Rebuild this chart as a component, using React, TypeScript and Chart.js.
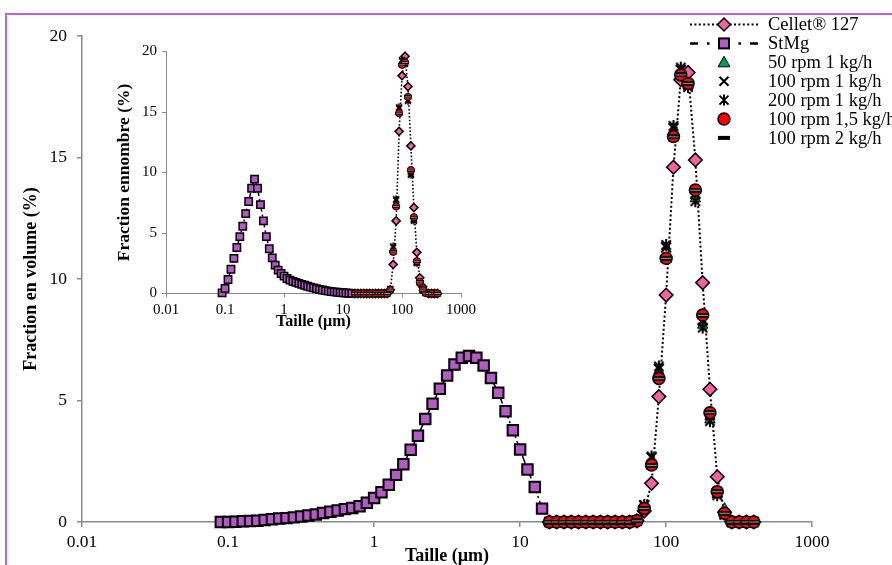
import React, { useEffect, useRef } from 'react';
import { Chart, registerables } from 'chart.js';

Chart.register(...registerables);

const FONT = "'Liberation Serif', 'Times New Roman', Times, serif";
const AXIS_GRAY = '#898989';
const PINK = '#F2629E';
const PURPLE = '#B35AC4';
const GREEN = '#00A04E';
const RED = '#FF0000';
const FRAME = '#C165CF';

// Size classes (µm)
const stmgSizes = [
  0.0893, 0.1002, 0.1125, 0.1262, 0.1416, 0.1589, 0.1783, 0.2, 0.2244, 0.2518,
  0.2825, 0.317, 0.3557, 0.3991, 0.4477, 0.5024, 0.5637, 0.6325, 0.7096, 0.7962,
  0.8934, 1.002, 1.125, 1.262, 1.416, 1.589, 1.783, 2.0, 2.244, 2.518,
  2.825, 3.17, 3.557, 3.991, 4.477, 5.024, 5.637, 6.325, 7.096, 7.962,
  8.934, 10.02, 11.25, 12.62, 14.16,
];
const coarseSizes = [
  15.89, 17.83, 20.0, 22.44, 25.18, 28.25, 31.7, 35.57, 39.91, 44.77,
  50.24, 56.37, 63.25, 70.96, 79.62, 89.34, 100.2, 112.5, 126.2, 141.6,
  158.9, 178.3, 200.0, 224.4, 251.8, 282.5, 317.0, 355.7, 399.1,
];
const xTickValues = [0.01, 0.1, 1, 10, 100, 1000];
const yMax = 20;
const yStep = 5;

const seriesLabels = [
  'Cellet® 127',
  'StMg',
  '50 rpm 1 kg/h',
  '100 rpm 1 kg/h',
  '200 rpm 1 kg/h',
  '100 rpm 1,5 kg/h',
  '100 rpm 2 kg/h',
];

// ---- Volume distribution (main chart) ----
const stmgVol = [
  0.0, 0.0, 0.01, 0.03, 0.04, 0.05, 0.08, 0.11, 0.14, 0.16,
  0.19, 0.23, 0.27, 0.31, 0.37, 0.42, 0.47, 0.53, 0.58, 0.65,
  0.79, 0.99, 1.22, 1.53, 1.94, 2.38, 2.97, 3.55, 4.24, 4.87,
  5.48, 6.03, 6.48, 6.76, 6.83, 6.76, 6.44, 5.93, 5.32, 4.56,
  3.78, 2.98, 2.16, 1.44, 0.55,
];
const celletVol = [
  0, 0, 0, 0, 0, 0, 0, 0, 0, 0, 0, 0,
  0.05, 0.45, 1.59, 5.16, 9.34, 14.6, 18.2, 18.5, 14.9, 9.85, 5.46, 1.86, 0.4, 0, 0, 0, 0,
];
const rpm50Vol = [
  0, 0, 0, 0, 0, 0, 0, 0, 0, 0, 0, 0,
  0.05, 0.55, 2.3, 5.9, 10.8, 15.8, 18.4, 18.0, 13.3, 8.1, 4.2, 1.15, 0.55, 0, 0, 0, 0,
];
const rpm100Vol = [
  0, 0, 0, 0, 0, 0, 0, 0, 0, 0, 0, 0,
  0.06, 0.68, 2.65, 6.3, 11.3, 16.2, 18.6, 18.0, 13.5, 8.3, 4.4, 1.2, 0.33, 0, 0, 0, 0,
];
const rpm200Vol = [
  0, 0, 0, 0, 0, 0, 0, 0, 0, 0, 0, 0,
  0.06, 0.7, 2.7, 6.4, 11.4, 16.3, 18.7, 17.9, 13.2, 8.0, 4.15, 1.1, 0.3, 0, 0, 0, 0,
];
const rpm100r15Vol = [
  0, 0, 0, 0, 0, 0, 0, 0, 0, 0, 0, 0,
  0.05, 0.56, 2.35, 5.91, 10.85, 15.86, 18.4, 18.05, 13.66, 8.52, 4.5, 1.25, 0.36, 0, 0, 0, 0,
];
const rpm100r2Vol = [
  0, 0, 0, 0, 0, 0, 0, 0, 0, 0, 0, 0,
  0.05, 0.56, 2.33, 5.9, 10.85, 15.85, 18.4, 18.05, 13.65, 8.5, 4.5, 1.25, 0.36, 0, 0, 0, 0,
];

// ---- Number distribution (inset) ----
const stmgNum = [
  0.05, 0.41, 1.16, 2.0, 2.9, 3.8, 4.7, 5.56, 6.6, 7.6,
  8.7, 9.45, 8.7, 7.35, 6.0, 4.7, 3.7, 2.95, 2.35, 1.93,
  1.65, 1.43, 1.24, 1.1, 1.0, 0.92, 0.84, 0.76, 0.68, 0.6,
  0.53, 0.46, 0.4, 0.34, 0.29, 0.24, 0.2, 0.16, 0.13, 0.1,
  0.08, 0.06, 0.04, 0.02, 0.01,
];
const celletNum = [
  0, 0, 0, 0, 0, 0, 0, 0, 0, 0, 0, 0,
  0.3, 2.4, 6.0, 13.4, 18.0, 19.6, 17.1, 12.2, 7.1, 3.4, 1.3, 0.55, 0.1, 0, 0, 0, 0,
];
const rpm50Num = [
  0, 0, 0, 0, 0, 0, 0, 0, 0, 0, 0, 0,
  0.28, 3.4, 7.2, 14.9, 18.9, 19.1, 16.2, 10.0, 6.1, 2.5, 0.9, 0.35, 0.05, 0, 0, 0, 0,
];
const rpm100Num = [
  0, 0, 0, 0, 0, 0, 0, 0, 0, 0, 0, 0,
  0.35, 3.8, 7.7, 15.3, 19.2, 19.0, 16.0, 9.9, 6.1, 2.6, 0.9, 0.25, 0.05, 0, 0, 0, 0,
];
const rpm200Num = [
  0, 0, 0, 0, 0, 0, 0, 0, 0, 0, 0, 0,
  0.35, 3.9, 7.8, 15.4, 19.3, 19.0, 15.9, 9.8, 6.0, 2.5, 0.9, 0.3, 0.05, 0, 0, 0, 0,
];
const rpm100r15Num = [
  0, 0, 0, 0, 0, 0, 0, 0, 0, 0, 0, 0,
  0.28, 3.44, 7.2, 14.9, 18.9, 19.1, 16.25, 10.2, 6.3, 2.67, 0.96, 0.28, 0.05, 0, 0, 0, 0,
];
const rpm100r2Num = [
  0, 0, 0, 0, 0, 0, 0, 0, 0, 0, 0, 0,
  0.28, 3.44, 7.2, 14.9, 18.9, 19.1, 16.25, 10.2, 6.3, 2.67, 0.96, 0.28, 0.05, 0, 0, 0, 0,
];

function pts(xs: number[], ys: number[]) {
  return xs.map((x, i) => ({ x, y: ys[i] }));
}

function makeStar(r: number, lw: number) {
  const s = Math.ceil(2 * r + lw + 2);
  const c = document.createElement('canvas');
  c.width = s;
  c.height = s;
  const g = c.getContext('2d')!;
  const m = s / 2;
  g.strokeStyle = '#000';
  g.lineWidth = lw;
  g.beginPath();
  g.moveTo(m, m - r);
  g.lineTo(m, m + r);
  const d = r * 0.78;
  g.moveTo(m - d, m - d);
  g.lineTo(m + d, m + d);
  g.moveTo(m + d, m - d);
  g.lineTo(m - d, m + d);
  g.stroke();
  return c;
}

function makeDash(w: number, h: number) {
  const c = document.createElement('canvas');
  c.width = w;
  c.height = h;
  const g = c.getContext('2d')!;
  g.fillStyle = '#111';
  g.fillRect(0, 0, w, h);
  g.fillStyle = '#9d8c8c';
  g.fillRect(1, Math.floor(h / 2), w - 2, 1);
  return c;
}

type SeriesSet = {
  cellet: number[];
  stmg: number[];
  r50: number[];
  r100: number[];
  r200: number[];
  r15: number[];
  r2: number[];
};

function buildDatasets(d: SeriesSet, inset: boolean) {
  const k = inset ? 0.6 : 1;
  const star = makeStar(inset ? 3.8 : 6, inset ? 1.5 : 2);
  const dash = inset ? makeDash(8, 3) : makeDash(12, 5);
  const common = { showLine: false, clip: false as const, pointBorderColor: '#000' };
  return [
    {
      label: seriesLabels[0],
      data: pts(coarseSizes, d.cellet),
      showLine: true,
      clip: false as const,
      borderColor: '#000',
      borderWidth: inset ? 1.6 : 2,
      borderDash: inset ? [1.6, 2] : [2, 2.4],
      pointStyle: 'rectRot',
      pointRadius: 6.8 * k,
      pointBorderWidth: 1.5,
      pointBackgroundColor: PINK,
      pointBorderColor: '#000',
      order: 7,
    },
    {
      label: seriesLabels[1],
      data: pts(stmgSizes, d.stmg),
      showLine: true,
      clip: false as const,
      borderColor: '#000',
      borderWidth: 1.5,
      borderDash: [8, 3, 2, 3],
      pointStyle: 'rect',
      pointRadius: inset ? 5.2 : 7.4,
      pointBorderWidth: inset ? 1.5 : 2,
      pointBackgroundColor: PURPLE,
      pointBorderColor: '#000',
      order: 6,
    },
    {
      ...common,
      label: seriesLabels[2],
      data: pts(coarseSizes, d.r50),
      pointStyle: 'triangle',
      pointRadius: 6 * k,
      pointBorderWidth: 1,
      pointBackgroundColor: GREEN,
      order: 5,
    },
    {
      ...common,
      label: seriesLabels[3],
      data: pts(coarseSizes, d.r100),
      pointStyle: 'crossRot',
      pointRadius: 7 * k,
      pointBorderWidth: inset ? 1.5 : 2,
      order: 4,
    },
    {
      ...common,
      label: seriesLabels[4],
      data: pts(coarseSizes, d.r200),
      pointStyle: star,
      pointRadius: 6 * k,
      order: 3,
    },
    {
      ...common,
      label: seriesLabels[5],
      data: pts(coarseSizes, d.r15),
      pointStyle: 'circle',
      pointRadius: 6 * k,
      pointBorderWidth: inset ? 1 : 1.5,
      pointBackgroundColor: RED,
      order: 2,
    },
    {
      ...common,
      label: seriesLabels[6],
      data: pts(coarseSizes, d.r2),
      pointStyle: dash,
      pointRadius: 5 * k,
      order: 1,
    },
  ];
}

type Geo = {
  tickSize: number;
  xTitleSize: number;
  yTitleSize: number;
  yWidth: number;
  xHeight: number;
  padding: { left: number; right: number; top: number; bottom: number };
  xTitle: string;
  yTitle: string;
  tickLen: number;
  yTickPad: number;
  xTickPad: number;
  lineW: number;
};

function buildOptions(g: Geo) {
  return {
    responsive: false,
    animation: false as const,
    devicePixelRatio: 1,
    events: [],
    layout: { padding: g.padding },
    plugins: {
      legend: { display: false },
      tooltip: { enabled: false },
    },
    scales: {
      x: {
        type: 'logarithmic' as const,
        min: 0.01,
        max: 1000,
        afterBuildTicks: (s: any) => {
          s.ticks = xTickValues.map((v) => ({ value: v }));
        },
        afterFit: (s: any) => {
          s.height = g.xHeight;
        },
        ticks: {
          autoSkip: false,
          maxRotation: 0,
          padding: g.xTickPad,
          color: '#000',
          font: { family: FONT, size: g.tickSize },
          callback: (v: any) => String(v),
        },
        grid: {
          drawOnChartArea: false,
          drawTicks: true,
          tickLength: g.tickLen,
          color: AXIS_GRAY,
          lineWidth: g.lineW,
        },
        border: { color: AXIS_GRAY, width: g.lineW },
        title: {
          display: true,
          text: g.xTitle,
          color: '#000',
          padding: 0,
          font: { family: FONT, size: g.xTitleSize, weight: 'bold' as const, lineHeight: 1 },
        },
      },
      y: {
        type: 'linear' as const,
        min: 0,
        max: yMax,
        afterFit: (s: any) => {
          s.width = g.yWidth;
        },
        ticks: {
          stepSize: yStep,
          padding: g.yTickPad,
          color: '#000',
          font: { family: FONT, size: g.tickSize },
        },
        grid: {
          drawOnChartArea: false,
          drawTicks: true,
          tickLength: g.tickLen,
          color: AXIS_GRAY,
          lineWidth: g.lineW,
        },
        border: { color: AXIS_GRAY, width: g.lineW },
        title: {
          display: true,
          text: g.yTitle,
          color: '#000',
          padding: 0,
          font: { family: FONT, size: g.yTitleSize, weight: 'bold' as const, lineHeight: 1 },
        },
      },
    },
  };
}

const LEGEND_TOP = 24.5;
const LEGEND_STEP = 18.9;

const framePlugin = {
  id: 'frame',
  beforeDraw(chart: any) {
    const ctx = chart.ctx;
    ctx.save();
    ctx.strokeStyle = FRAME;
    ctx.lineWidth = 2;
    ctx.strokeRect(6, 14, 2000, 2000);
    ctx.restore();
  },
};

const legendPlugin = {
  id: 'customLegend',
  afterDraw(chart: any) {
    const ctx = chart.ctx as CanvasRenderingContext2D;
    const x0 = 690;
    const x1 = 758;
    const xm = 724;
    const xt = 768;
    ctx.save();
    seriesLabels.forEach((label, i) => {
      const y = LEGEND_TOP + i * LEGEND_STEP;
      ctx.strokeStyle = '#000';
      ctx.fillStyle = '#000';
      if (i === 0) {
        ctx.lineWidth = 2;
        ctx.setLineDash([2, 2.4]);
        ctx.beginPath();
        ctx.moveTo(x0, y);
        ctx.lineTo(x1, y);
        ctx.stroke();
        ctx.setLineDash([]);
        ctx.beginPath();
        ctx.moveTo(xm - 6.5, y);
        ctx.lineTo(xm, y - 6.5);
        ctx.lineTo(xm + 6.5, y);
        ctx.lineTo(xm, y + 6.5);
        ctx.closePath();
        ctx.fillStyle = PINK;
        ctx.fill();
        ctx.lineWidth = 1.5;
        ctx.stroke();
      } else if (i === 1) {
        ctx.lineWidth = 2.5;
        ctx.beginPath();
        ctx.moveTo(x0, y);
        ctx.lineTo(x0 + 8, y);
        ctx.moveTo(x0 + 17, y);
        ctx.lineTo(x0 + 19.5, y);
        ctx.moveTo(x1 - 19.5, y);
        ctx.lineTo(x1 - 17, y);
        ctx.moveTo(x1 - 8, y);
        ctx.lineTo(x1, y);
        ctx.stroke();
        ctx.fillStyle = PURPLE;
        ctx.fillRect(xm - 5, y - 5, 10, 10);
        ctx.lineWidth = 2;
        ctx.strokeRect(xm - 5, y - 5, 10, 10);
      } else if (i === 2) {
        ctx.beginPath();
        ctx.moveTo(xm, y - 6);
        ctx.lineTo(xm + 6, y + 4.5);
        ctx.lineTo(xm - 6, y + 4.5);
        ctx.closePath();
        ctx.fillStyle = GREEN;
        ctx.fill();
        ctx.lineWidth = 1;
        ctx.stroke();
      } else if (i === 3) {
        ctx.lineWidth = 2;
        ctx.beginPath();
        ctx.moveTo(xm - 4.5, y - 4.5);
        ctx.lineTo(xm + 4.5, y + 4.5);
        ctx.moveTo(xm + 4.5, y - 4.5);
        ctx.lineTo(xm - 4.5, y + 4.5);
        ctx.stroke();
      } else if (i === 4) {
        ctx.lineWidth = 2;
        ctx.beginPath();
        ctx.moveTo(xm, y - 5.5);
        ctx.lineTo(xm, y + 5.5);
        ctx.moveTo(xm - 4.5, y - 4.5);
        ctx.lineTo(xm + 4.5, y + 4.5);
        ctx.moveTo(xm + 4.5, y - 4.5);
        ctx.lineTo(xm - 4.5, y + 4.5);
        ctx.stroke();
      } else if (i === 5) {
        ctx.beginPath();
        ctx.arc(xm, y, 6, 0, Math.PI * 2);
        ctx.fillStyle = RED;
        ctx.fill();
        ctx.lineWidth = 1.5;
        ctx.stroke();
      } else {
        ctx.fillStyle = '#000';
        ctx.fillRect(xm - 6, y - 2, 12, 4);
      }
      ctx.fillStyle = '#000';
      ctx.font = `18.5px ${FONT}`;
      ctx.textAlign = 'left';
      ctx.textBaseline = 'middle';
      ctx.fillText(label, xt, y + 1);
    });
    ctx.restore();
  },
};

export default function App() {
  const mainRef = useRef<HTMLCanvasElement>(null);
  const insetRef = useRef<HTMLCanvasElement>(null);

  useEffect(() => {
    const mainGeo: Geo = {
      tickSize: 17.5,
      xTitleSize: 18,
      yTitleSize: 18,
      yWidth: 60,
      xHeight: 43,
      padding: { left: 22, right: 80, top: 36, bottom: 0 },
      xTitle: 'Taille (µm)',
      yTitle: 'Fraction en volume (%)',
      tickLen: 5,
      yTickPad: 10,
      xTickPad: 5,
      lineW: 1.5,
    };
    const insetGeo: Geo = {
      tickSize: 15,
      xTitleSize: 16,
      yTitleSize: 17.5,
      yWidth: 50,
      xHeight: 36.5,
      padding: { left: 16, right: 17, top: 15.5, bottom: 0 },
      xTitle: 'Taille (µm)',
      yTitle: 'Fraction ennombre (%)',
      tickLen: 4,
      yTickPad: 5,
      xTickPad: 4,
      lineW: 1,
    };

    const main = new Chart(mainRef.current!, {
      type: 'line',
      data: {
        datasets: buildDatasets(
          {
            cellet: celletVol,
            stmg: stmgVol,
            r50: rpm50Vol,
            r100: rpm100Vol,
            r200: rpm200Vol,
            r15: rpm100r15Vol,
            r2: rpm100r2Vol,
          },
          false
        ) as any,
      },
      options: buildOptions(mainGeo) as any,
      plugins: [framePlugin, legendPlugin],
    });

    const inset = new Chart(insetRef.current!, {
      type: 'line',
      data: {
        datasets: buildDatasets(
          {
            cellet: celletNum,
            stmg: stmgNum,
            r50: rpm50Num,
            r100: rpm100Num,
            r200: rpm200Num,
            r15: rpm100r15Num,
            r2: rpm100r2Num,
          },
          true
        ) as any,
      },
      options: buildOptions(insetGeo) as any,
    });

    return () => {
      main.destroy();
      inset.destroy();
    };
  }, []);

  return (
    <div style={{ position: 'fixed', left: 0, top: 0, width: 892, height: 565, background: '#fff', overflow: 'hidden' }}>
      <canvas
        ref={mainRef}
        width={892}
        height={565}
        style={{ position: 'absolute', left: 0, top: 0, width: 892, height: 565 }}
      />
      <canvas
        ref={insetRef}
        width={380}
        height={294}
        style={{ position: 'absolute', left: 100, top: 36, width: 380, height: 294 }}
      />
    </div>
  );
}
